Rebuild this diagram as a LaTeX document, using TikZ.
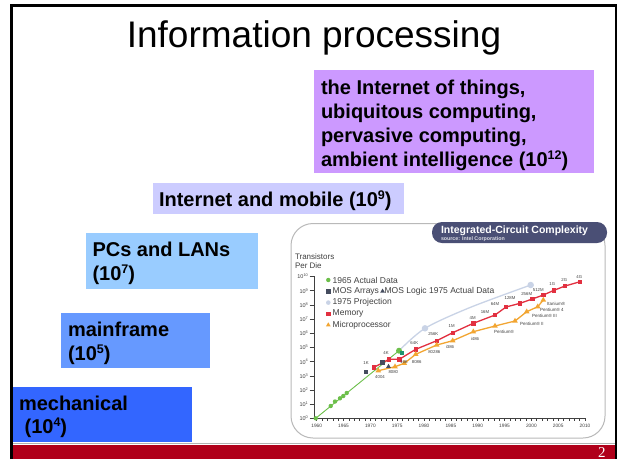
\documentclass[tikz,border=0pt]{standalone}
\usepackage{fontspec}
\setmainfont{Liberation Sans}
\newfontfamily\slideserif{Liberation Serif}
\usetikzlibrary{shapes.geometric}
\definecolor{mechblue}{HTML}{3366FF}
\definecolor{mainblue}{HTML}{6699FF}
\definecolor{pcblue}{HTML}{99CCFF}
\definecolor{netlav}{HTML}{CCCCFF}
\definecolor{iotpurple}{HTML}{CC99FF}
\definecolor{barred}{HTML}{B0001A}
\definecolor{slate}{HTML}{4A4F75}
\definecolor{memred}{HTML}{E23040}
\definecolor{cpuorange}{HTML}{F2A531}
\definecolor{mosgreen}{HTML}{6CBF4A}
\definecolor{projblue}{HTML}{C9D3E6}
\definecolor{mosdark}{HTML}{454C5E}
\definecolor{chartgray}{HTML}{404040}
\newcommand\erasup[1]{\raisebox{6.3pt}{\fontsize{12.5}{13}\selectfont\bfseries #1}}
\begin{document}
\begin{tikzpicture}[x=1pt,y=-1pt,
  every node/.style={inner sep=0pt,outer sep=0pt},
  erabox/.style={anchor=north west},
  eratext/.style={anchor=base west,font=\bfseries\fontsize{20}{24}\selectfont},
  msq/.style={rectangle,fill=memred,minimum size=4.4pt},
  ctri/.style={regular polygon,regular polygon sides=3,fill=cpuorange,minimum size=6.5pt},
  gdot/.style={circle,fill=mosgreen,minimum size=4.4pt},
  pdot/.style={circle,fill=projblue,minimum size=6.5pt},
  dsq/.style={rectangle,fill=mosdark,minimum size=4.4pt},
  dtri/.style={regular polygon,regular polygon sides=3,fill=mosdark,minimum size=6.5pt},
  ptlbl/.style={font=\fontsize{4.3}{5}\selectfont,text=chartgray},
  cpulbl/.style={anchor=west,font=\fontsize{4.5}{5}\selectfont,text=chartgray},
  leg/.style={anchor=west,font=\fontsize{8.5}{10}\selectfont,text=chartgray},
  ylab/.style={anchor=east,font=\fontsize{5.5}{6}\selectfont,text=chartgray},
  xlab/.style={anchor=north,font=\fontsize{4.8}{6}\selectfont,text=chartgray},
]
\useasboundingbox (0,0) rectangle (623,459);
\fill[white] (0,0) rectangle (623,459);

% title
\node[anchor=base,font=\fontsize{37}{40}\selectfont] (title) at (314,47.5) {Information processing};

% era boxes
\node[erabox,fill=iotpurple,minimum width=280pt,minimum height=103pt] (iotbox) at (314,70) {};
\node[erabox,fill=netlav,minimum width=251pt,minimum height=31pt] (netbox) at (153,183) {};
\node[erabox,fill=pcblue,minimum width=172pt,minimum height=56pt] (pcbox) at (86,233) {};
\node[erabox,fill=mainblue,minimum width=149pt,minimum height=55pt] (mfbox) at (61,313) {};
\node[erabox,fill=mechblue,minimum width=180pt,minimum height=55pt] (mechbox) at (12,387) {};

\node[eratext] (iot1) at (321,94) {the Internet of things,};
\node[eratext] (iot2) at (321,118) {ubiquitous computing,};
\node[eratext] (iot3) at (321,142) {pervasive computing,};
\node[eratext] (iot4) at (321,166) {ambient intelligence (10\erasup{12})};
\node[eratext] (net1) at (159,206) {Internet and mobile (10\erasup{9})};
\node[eratext] (pc1) at (92.5,256) {PCs and LANs};
\node[eratext] (pc2) at (92.5,280) {(10\erasup{7})};
\node[eratext] (mf1) at (68,336) {mainframe};
\node[eratext] (mf2) at (68,360) {(10\erasup{5})};
\node[eratext] (mech1) at (19,410) {mechanical};
\node[eratext] (mech2) at (24.6,433) {(10\erasup{4})};

% chart frame
\draw[draw=gray!55,line width=1,fill=white,rounded corners=22] (291,223.5) rectangle (605,438);
\node[erabox,fill=slate,rounded corners=10,minimum width=175pt,minimum height=21pt] (banner) at (432,222) {};
\node[anchor=base west,font=\bfseries\fontsize{10.5}{12}\selectfont,text=white] (bantitle) at (441,233.5) {Integrated-Circuit Complexity};
\node[anchor=base west,font=\bfseries\fontsize{5.3}{6}\selectfont,text=white!80!slate] (bansrc) at (441,240.5) {source: Intel Corporation};

% axis titles
\node[anchor=base west,font=\fontsize{8}{9}\selectfont,text=chartgray] (ytit1) at (295,259.5) {Transistors};
\node[anchor=base west,font=\fontsize{8}{9}\selectfont,text=chartgray] (ytit2) at (295,268.5) {Per Die};

% axes
\draw[chartgray,line width=0.6] (314.5,276) -- (314.5,418.5) -- (586,418.5);
\foreach \n in {0,...,10}{
  \draw[chartgray,line width=0.5] (309.5,{418.5-\n*14.2}) -- (314.5,{418.5-\n*14.2});
  \node[ylab] (yl\n) at (308.3,{418.5-\n*14.2}) {10\textsuperscript{\n}};
}
\foreach \k in {0,...,50}
  \draw[chartgray,line width=0.5] ({316.7+\k*5.366},418.5) -- ++(0,2.6);
\foreach \yr [count=\j from 0] in {1960,1965,...,2010}
  \node[xlab] (xl\j) at ({316.7+\j*26.83},424.5) {\yr};

% legend
\node[gdot] (lgm1) at (328.3,280) {};
\node[leg] (lgt1) at (332.7,280) {1965 Actual Data};
\node[dsq] (lgm2) at (328.3,291.3) {};
\node[leg] (lgt2) at (332.7,291.3) {MOS Arrays};
\node[dtri,minimum size=5.5pt,anchor=west] (lgm2b) at ([xshift=2pt]lgt2.east) {};
\node[leg] (lgt2b) at ([xshift=0.5pt]lgm2b.east) {MOS Logic 1975 Actual Data};
\node[pdot,minimum size=4.6pt] (lgm3) at (328.3,302.6) {};
\node[leg] (lgt3) at (332.7,302.6) {1975 Projection};
\node[msq] (lgm4) at (328.3,313.9) {};
\node[leg] (lgt4) at (332.7,313.9) {Memory};
\node[ctri,minimum size=5.5pt] (lgm5) at (328.3,325) {};
\node[leg] (lgt5) at (332.7,325.2) {Microprocessor};

% 1975 projection
\coordinate (pr0) at (399,350.7);
\coordinate (pr1) at (425,328.3);
\coordinate (pr2) at (530.7,285);
\draw[projblue,line width=1.3] plot[smooth,tension=0.5] coordinates {(pr0) (pr1) (470,307.5) (pr2)};

% 1965 actual data (green)
\foreach \x/\y [count=\i] in {315.7/418.3,330.7/406,335/401.5,340/398.3,343.3/396,346.7/393,399/350.7}
  \coordinate (gr\i) at (\x,\y);
\draw[mosgreen,line width=0.9] (gr1) -- (gr7);

% memory
\foreach \x/\y [count=\i] in {374/367.3,389/359.3,399.3/359.3,415.7/349.3,436.7/340.7,452.7/332.7,473.3/323.3,495/315,506/307,520/303.3,532.3/299,543.3/295,554/290.3,565/286,580/281.7}
  \coordinate (mem\i) at (\x,\y);
\draw[memred,line width=1.3] (mem1) \foreach \i in {2,...,15}{ -- (mem\i)};

% microprocessor
\foreach \x/\y [count=\i] in {378.3/370.7,395/366.7,404.3/363.3,415.7/354.3,436.7/345,452.7/340.7,473.3/331.7,495/326,515/321,526.7/311.7,537.7/306.7,543.3/300}
  \coordinate (cpu\i) at (\x,\y);
\draw[cpuorange,line width=1.3] (cpu1) \foreach \i in {2,...,12}{ -- (cpu\i)};

% markers
\node[pdot] (prm1) at (pr1) {};
\node[pdot] (prm2) at (pr2) {};
\foreach \i in {1,...,6} \node[gdot] (grm\i) at (gr\i) {};
\node[gdot,minimum size=6pt] (grm7) at (gr7) {};
\node[rectangle,fill=teal!70!mosgreen,minimum size=4pt] (teal1) at (402,352.5) {};
\node[dsq] (mos1) at (366,371.7) {};
\node[dsq] (mos2) at (382.3,362.3) {};
\node[dtri,minimum size=5.5pt] (mos3) at (388.5,366.5) {};
\foreach \i in {1,...,15} \node[msq] (memm\i) at (mem\i) {};
\foreach \i in {1,...,12} \node[ctri] (cpum\i) at (cpu\i) {};

% memory labels
\foreach \x/\y/\t [count=\i] in {366/363.3/1K,386/353.3/4K,404/362.5/16K,414.3/343.3/64K,433.3/334/256K,451.7/326/1M,472.7/317.7/4M,485/312.3/16M,495/304.3/64M,510/298.3/128M,526.7/294.3/256M,538.3/289.7/512M,552.3/284/1G,564.3/280/2G,579.3/276.7/4G}
  \node[ptlbl] (meml\i) at (\x,\y) {\t};

% microprocessor labels
\node[ptlbl] (cl1) at (380,376.7) {4004};
\node[ptlbl] (cl2) at (393.3,371.7) {8080};
\node[ptlbl] (cl3) at (416.7,361.7) {8086};
\node[ptlbl] (cl4) at (434.3,351.7) {80286};
\node[ptlbl] (cl5) at (450,347) {i386};
\node[ptlbl] (cl6) at (475,339) {i486};
\node[cpulbl] (cl7) at (494,331.5) {Pentium®};
\node[cpulbl] (cl8) at (520,323.5) {Pentium® II};
\node[cpulbl] (cl9) at (532,315.5) {Pentium® III};
\node[cpulbl] (cl10) at (540,309.5) {Pentium® 4};
\node[cpulbl] (cl11) at (547,303.5) {Itanium®};

% bottom bar and frame
\draw[gray!60,line width=0.8] (12.6,443.6) -- (614.7,443.6);
\fill[barred] (12.6,444.5) rectangle (614.7,459);
\draw[line width=2.6,line join=miter] (11.3,459) -- (11.3,5.3) -- (616,5.3) -- (616,459);
\node[anchor=base east,font=\slideserif\fontsize{15}{16}\selectfont,text=white] (pagenum) at (605.5,457) {2};
\end{tikzpicture}
\end{document}
